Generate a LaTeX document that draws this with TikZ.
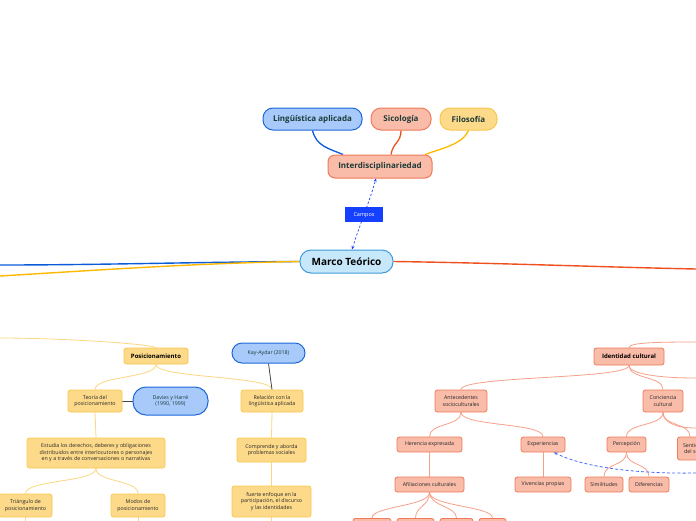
\documentclass[tikz,border=0pt]{standalone}
\usepackage{fontspec}
\setmainfont{Open Sans}
\usetikzlibrary{arrows.meta,backgrounds}
\definecolor{bf}{HTML}{A8CAFA}
\definecolor{bb}{HTML}{1C68DA}
\definecolor{sf}{HTML}{F9BCA8}
\definecolor{sb}{HTML}{F07A5A}
\definecolor{yf}{HTML}{FDDA8A}
\definecolor{yb}{HTML}{F9C64E}
\definecolor{mf}{HTML}{C7E8FB}
\definecolor{mb}{HTML}{3E9AD6}
\definecolor{txt}{HTML}{1D3B38}
\definecolor{lblue}{HTML}{0B5BD8}
\definecolor{lyel}{HTML}{FFB800}
\definecolor{lred}{HTML}{F0501E}
\definecolor{cblue}{HTML}{1540FF}
\definecolor{ylin}{HTML}{FCD680}
\definecolor{slin}{HTML}{F6A088}
\definecolor{glin}{HTML}{444444}
\tikzset{
  base/.style={inner sep=0pt, align=center, text=txt, line width=0.8pt},
  pill/.style={base, rounded corners=10pt, line width=1pt},
  bluecol/.style={draw=bb, fill=bf},
  salcol/.style={draw=sb, fill=sf},
  yelcol/.style={draw=yb, fill=yf},
  big/.style={font=\fontsize{8}{9}\selectfont\bfseries},
  small/.style={font=\fontsize{5.3}{6.6}\selectfont},
  ybox/.style={base, yelcol, rounded corners=2.5pt, small, text=black!85},
  sbox/.style={base, salcol, rounded corners=2.5pt, small, text=black!85},
  bpill/.style={pill, bluecol, small},
  mainline/.style={line width=1.4pt},
  yl/.style={draw=ylin, line width=0.8pt},
  sl/.style={draw=slin, line width=0.8pt},
  gl/.style={draw=glin, line width=0.8pt},
}
\begin{document}
\begin{tikzpicture}[x=1pt,y=-1pt]
\useasboundingbox (0,0) rectangle (696,520);
\clip (0,0) rectangle (696,520);
% top cluster
\node[pill,bluecol,big,minimum width=99,minimum height=22] (ling) at (312.5,119) {Lingüística aplicada};
\node[pill,salcol,big,minimum width=60,minimum height=22] (sico) at (401,119) {Sicología};
\node[pill,yelcol,big,minimum width=57,minimum height=22] (filo) at (468.5,119) {Filosofía};
\node[base,salcol,big,rounded corners=7pt,line width=1pt,minimum width=104,minimum height=23] (inter) at (380,166.5) {Interdisciplinariedad};
\node[pill,draw=mb,fill=mf,text=black,font=\fontsize{10}{11}\selectfont\bfseries,minimum width=93,minimum height=23,rounded corners=11pt] (marco) at (346.5,261.5) {Marco Teórico};
\coordinate (L1) at (0,265);
\coordinate (L2) at (0,276);
\coordinate (R1) at (696,269);
% left cluster
\node[ybox,font=\fontsize{6}{7}\selectfont\bfseries,text=black,minimum width=64,minimum height=16] (pos) at (156,356) {Posicionamiento};
\node[bpill,minimum width=73,minimum height=20] (kay) at (268.5,353) {Kay-Aydar (2018)};
\node[ybox,minimum width=54,minimum height=22] (teo) at (95,401) {Teoría del\\posicionamiento};
\node[bpill,rounded corners=13pt,minimum width=75,minimum height=28] (dav) at (170.5,401) {Davies y Harré\\(1990, 1999)};
\node[ybox,minimum width=62,minimum height=22] (rel) at (272,401) {Relación con la\\lingüística aplicada};
\node[ybox,minimum width=138,minimum height=30] (est) at (96,453) {Estudia los derechos, deberes y obligaciones\\distribuidos entre interlocutores o personajes\\en y a través de conversaciones o narrativas};
\node[ybox,minimum width=53,minimum height=23] (tri) at (25.5,505.5) {Triángulo de\\posicionamiento};
\node[ybox,minimum width=54,minimum height=23] (mod) at (138,505.5) {Modos de\\posicionamiento};
\node[ybox,minimum width=69,minimum height=24] (com) at (271.5,450) {Comprende y aborda\\problemas sociales};
\node[ybox,minimum width=79,minimum height=31] (fue) at (271.5,501.5) {fuerte enfoque en la\\participación, el discurso\\y las identidades};
\coordinate (LP) at (0,338);
\coordinate (TD) at (25.5,525);
\coordinate (MD) at (138,525);
\coordinate (FD) at (271.5,525);
% right cluster
\node[sbox,font=\fontsize{6}{7}\selectfont\bfseries,text=black,minimum width=70,minimum height=17] (ide) at (629,356.5) {Identidad cultural};
\node[sbox,minimum width=52,minimum height=22] (ant) at (461,401) {Antecedentes\\socioculturales};
\node[sbox,minimum width=40,minimum height=22] (con) at (663,401) {Conciencia\\cultural};
\node[sbox,minimum width=65,minimum height=15] (her) at (429.5,444.5) {Herencia expresada};
\node[sbox,minimum width=44,minimum height=15] (exp) at (543,444.5) {Experiencias};
\node[sbox,minimum width=69,minimum height=15] (afi) at (429.5,484.5) {Afiliaciones culturales};
\node[sbox,minimum width=56,minimum height=15] (viv) at (543,484.5) {Vivencias propias};
\node[sbox,minimum width=39,minimum height=15] (per) at (626.5,444.5) {Percepción};
\node[sbox,minimum width=30,minimum height=23,anchor=west] (sen) at (677,448.5) {Sentido\\del ser};
\node[sbox,minimum width=38,minimum height=15] (sim) at (604,484.5) {Similitudes};
\node[sbox,minimum width=40,minimum height=15] (dif) at (649,484.5) {Diferencias};
\node[sbox,minimum width=38,minimum height=14,anchor=north] (b1) at (372,518) {};
\node[sbox,minimum width=37,minimum height=14,anchor=north] (b2) at (415.5,518) {};
\node[sbox,minimum width=33,minimum height=14,anchor=north] (b3) at (456.5,518) {};
\node[sbox,minimum width=27,minimum height=14,anchor=north] (b4) at (492.5,518) {};
\coordinate (R2) at (696,342);
\coordinate (R3) at (696,378);
\coordinate (R4) at (696,428);
\coordinate (DA) at (696,473);
% dashed links
\draw[cblue,dash pattern=on 2.2pt off 2pt,line width=0.7pt,{Stealth[length=3.5pt,width=3pt]}-{Stealth[length=3.5pt,width=3pt]}]
  ([xshift=5.5]marco.north) .. controls (358,230) and (370,200) .. ([xshift=-4]inter.south)
  node[pos=0.5,fill=cblue,text=white,font=\fontsize{5.5}{6}\selectfont,inner sep=0pt,minimum width=38,minimum height=15] (cam) {Campos};
\draw[cblue!80,dash pattern=on 3pt off 2.2pt,line width=0.8pt,-{Stealth[length=3.5pt,width=3pt]}]
  (DA) .. controls (640,474) and (585,468) .. ([xshift=11]exp.south);
\begin{scope}[on background layer]
\clip (0,0) rectangle (696,520);
\draw[lblue,line width=1.3pt] (ling.south) .. controls +(4,16) and +(-14,-6) .. ([xshift=-37]inter.north);
\draw[lred,line width=1.3pt] (sico.south) .. controls +(0,12) and +(2,-12) .. ([xshift=11]inter.north);
\draw[lyel,line width=1.3pt] (filo.south) .. controls +(-6,14) and +(16,-6) .. ([xshift=45]inter.north);
\draw[lblue,mainline] (marco.west) .. controls (200,262) and (100,265) .. (L1);
\draw[lyel,mainline] (marco.west) .. controls (200,263) and (100,270) .. (L2);
\draw[lred,mainline] (marco.east) .. controls (500,263) and (600,267) .. (R1);
% left
\draw[yl] (pos.north) .. controls +(-8,-4) and +(60,0) .. (LP);
\draw[yl] (pos.south) .. controls +(0,14) and +(0,-14) .. (teo.north);
\draw[yl] (pos.south) .. controls +(0,14) and +(0,-14) .. (rel.north);
\draw[gl] (teo.east) -- (dav.west);
\draw[gl] (kay.south) -- (rel.north);
\draw[yl] (teo.south) -- (est.north);
\draw[yl] (est.south) .. controls +(0,14) and +(0,-14) .. (tri.north);
\draw[yl] (est.south) .. controls +(0,14) and +(0,-14) .. (mod.north);
\draw[yl] (tri.south) -- (TD);
\draw[yl] (mod.south) -- (MD);
\draw[yl] (rel.south) -- (com.north);
\draw[yl] (com.south) -- (fue.north);
\draw[yl] (fue.south) -- (FD);
% right
\draw[sl] (ide.north) .. controls +(0,-5) and +(-40,0) .. (R2);
\draw[sl] (ide.south) .. controls +(0,14) and +(0,-14) .. (ant.north);
\draw[sl] (ide.south) .. controls +(0,14) and +(0,-14) .. (con.north);
\draw[sl] (ide.south) .. controls +(0,8) and +(-40,0) .. (R3);
\draw[sl] (ant.south) .. controls +(0,14) and +(0,-14) .. (her.north);
\draw[sl] (ant.south) .. controls +(0,14) and +(0,-14) .. (exp.north);
\draw[sl] (her.south) -- (afi.north);
\draw[sl] (exp.south) -- (viv.north);
\draw[sl] (afi.south) .. controls +(0,14) and +(0,-12) .. (b1.north);
\draw[sl] (afi.south) .. controls +(0,14) and +(0,-12) .. (b2.north);
\draw[sl] (afi.south) .. controls +(0,14) and +(0,-12) .. (b3.north);
\draw[sl] (afi.south) .. controls +(0,14) and +(0,-12) .. (b4.north);
\draw[sl] (con.south) .. controls +(0,14) and +(0,-14) .. (per.north);
\draw[sl] (con.south) .. controls +(0,14) and +(0,-14) .. ([xshift=13]sen.north west);
\draw[sl] (con.south) .. controls +(0,10) and +(-20,0) .. (R4);
\draw[sl] (per.south) .. controls +(0,14) and +(0,-14) .. (sim.north);
\draw[sl] (per.south) .. controls +(0,14) and +(0,-14) .. (dif.north);
\end{scope}
\end{tikzpicture}
\end{document}
